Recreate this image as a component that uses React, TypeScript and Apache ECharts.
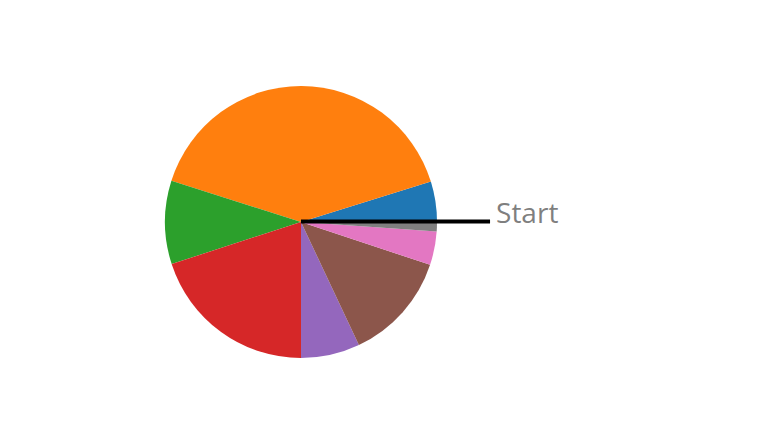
import { useEffect, useRef } from "react";
import * as echarts from "echarts";

const sliceNames = ["A", "B", "C", "D", "E", "F", "G", "H"];
const sliceValues = [4.8, 40.3, 9.9, 20.0, 7.0, 12.9, 4.0, 1.1];
const sliceColors = [
  "#1f77b4",
  "#ff7f0e",
  "#2ca02c",
  "#d62728",
  "#9467bd",
  "#8c564b",
  "#e377c2",
  "#7f7f7f"
];
const startLabel = "Start";

const CX = 301;
const CY = 222;
const R = 136;

export default function App() {
  const ref = useRef<HTMLDivElement | null>(null);

  useEffect(() => {
    if (!ref.current) {
      return;
    }
    const instance = echarts.init(ref.current, null, { renderer: "svg" });
    const lineEnd = CX + R * 1.39;

    instance.setOption({
      animation: false,
      backgroundColor: "#ffffff",
      series: [
        {
          type: "pie",
          center: [CX, CY],
          radius: [0, R],
          startAngle: 0,
          clockwise: false,
          minAngle: 0,
          label: { show: false },
          labelLine: { show: false },
          emphasis: { disabled: true },
          itemStyle: { borderWidth: 0 },
          data: sliceValues.map((value, i) => ({
            name: sliceNames[i],
            value,
            itemStyle: { color: sliceColors[i] }
          }))
        }
      ],
      graphic: [
        {
          type: "line",
          z: 10,
          shape: { x1: CX, y1: CY - 0.5, x2: lineEnd, y2: CY - 0.5 },
          style: { stroke: "#000000", lineWidth: 4 }
        },
        {
          type: "text",
          z: 10,
          x: lineEnd + 6,
          y: CY + 4,
          style: {
            text: startLabel,
            fill: "#7f7f7f",
            font: "28px 'Open Sans', 'Noto Sans', sans-serif",
            textAlign: "left",
            textVerticalAlign: "bottom"
          }
        }
      ]
    });

    return () => {
      instance.dispose();
    };
  }, []);

  return (
    <div
      ref={ref}
      style={{ position: "absolute", left: 0, top: 0, width: 768, height: 441 }}
    />
  );
}
